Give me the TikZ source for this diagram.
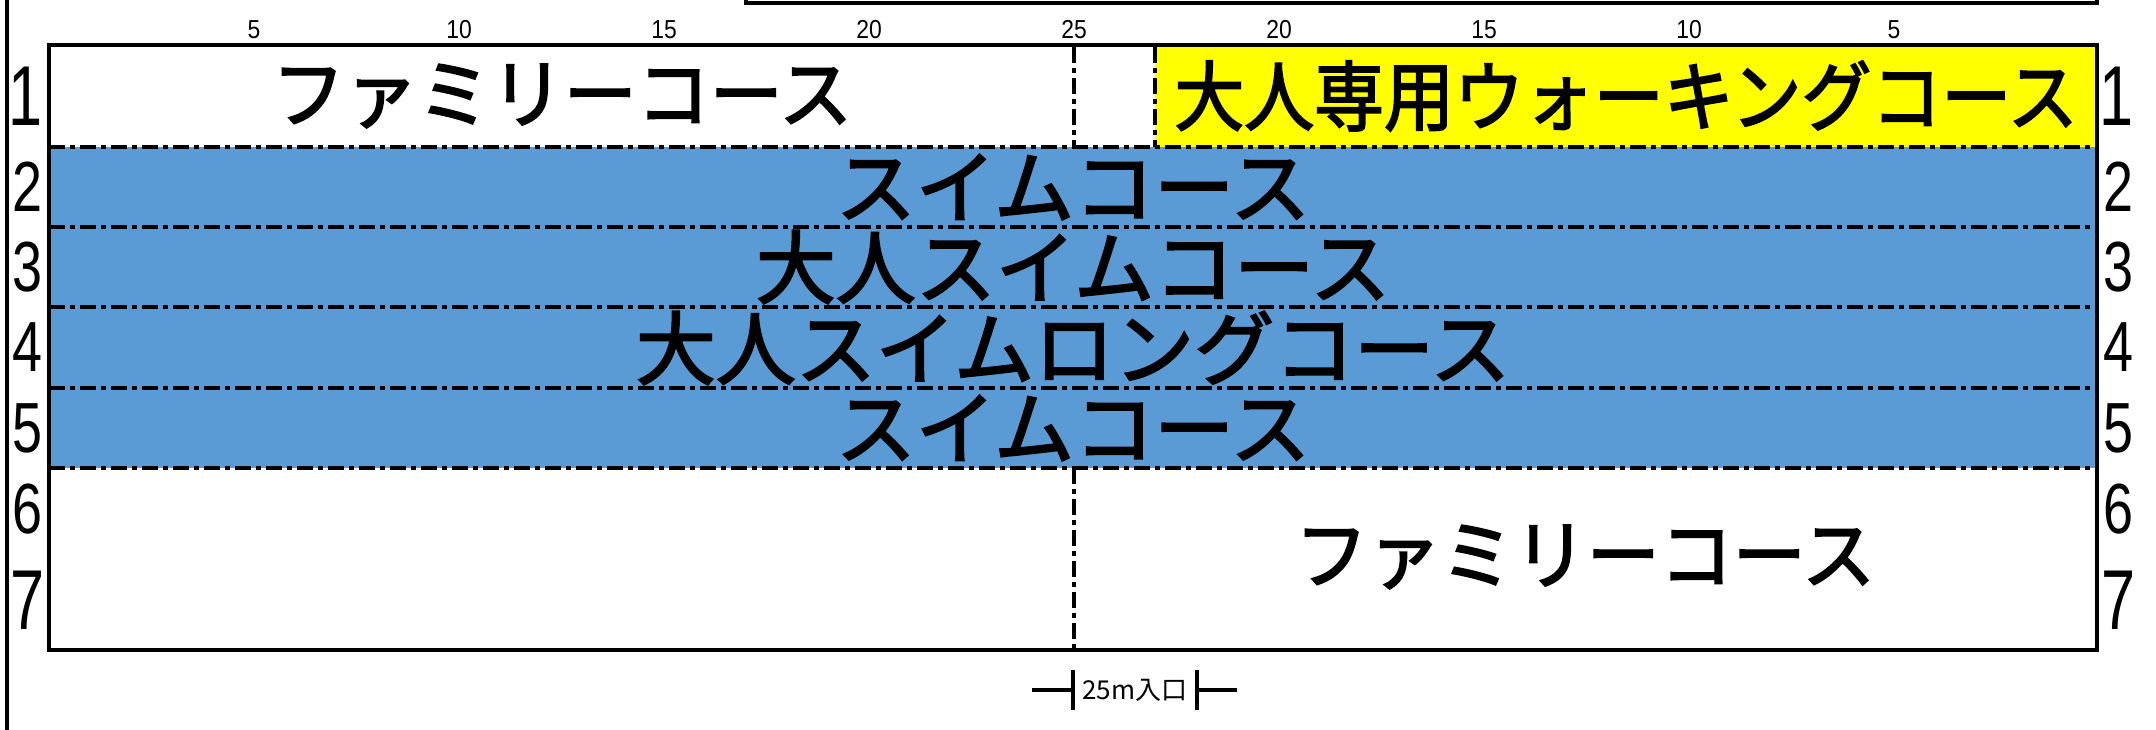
\documentclass[tikz,border=0pt]{standalone}
\usepackage{fontspec}
\setmainfont{Liberation Sans}
\newfontfamily\jpfont{Noto Sans CJK JP}
\newfontfamily\jpheavy{Noto Sans CJK JP}[FakeBold=2.5]
\definecolor{poolblue}{HTML}{5B9BD5}
\definecolor{walkyellow}{HTML}{FFFF00}
\newcommand{\narrowtxt}[2]{\scalebox{#1}[1]{#2}}
\begin{document}
\begin{tikzpicture}[x=1pt,y=-1pt,
  lane/.style={line width=3.3pt, dash pattern=on 16pt off 5pt on 5pt off 5pt},
  frame/.style={line width=4pt},
  jpbig/.style={inner sep=0pt, font=\jpheavy\fontsize{80}{90}\selectfont},
  jpmid/.style={inner sep=0pt, font=\jpheavy\fontsize{76}{85}\selectfont},
  rownum/.style={inner sep=0pt, font=\fontsize{71}{80}\selectfont},
  rownumbig/.style={inner sep=0pt, font=\fontsize{85}{95}\selectfont},
  ruler/.style={inner sep=0pt, font=\fontsize{26}{30}\selectfont},
  entr/.style={inner sep=0pt, font=\jpfont\fontsize{26}{30}\selectfont},
  marker/.style={line width=4.4pt}]
\useasboundingbox (0,0) rectangle (2156,729);

% fills
\fill[poolblue] (49,147) rectangle (2097,468);
\fill[walkyellow] (1155,45) rectangle (2097,147);

% lane lines
\foreach \yy in {147,227,307,388,468}
  \draw[lane] (49,\yy) -- (2097,\yy);
\draw[lane] (1074,47) -- (1074,147);
\draw[lane] (1074,468) -- (1074,650);
\draw[lane] (1155,47) -- (1155,147);

% frames
\draw[frame] (49,45) rectangle (2097,650);
\draw[frame] (746,-20) rectangle (2097,3);
\draw[line width=3.5pt] (7,-5) -- (7,735);

% ruler
\foreach \xx/\lab in {254/5,459/10,664/15,869/20,1074/25,1279/20,1484/15,1689/10,1894/5}
  \node[ruler] (r\xx) at (\xx,30) {\narrowtxt{0.88}{\lab}};

% row numbers
\node[rownumbig] (L1) at (26,96) {\narrowtxt{0.72}{1}};
\node[rownum] (L2) at (28,187) {\narrowtxt{0.76}{2}};
\node[rownum] (L3) at (28,267) {\narrowtxt{0.76}{3}};
\node[rownum] (L4) at (28,347) {\narrowtxt{0.76}{4}};
\node[rownum] (L5) at (28,428) {\narrowtxt{0.76}{5}};
\node[rownum] (L6) at (28,509) {\narrowtxt{0.76}{6}};
\node[rownumbig] (L7) at (28,600) {\narrowtxt{0.72}{7}};
\node[rownumbig] (R1) at (2116,96) {\narrowtxt{0.72}{1}};
\node[rownum] (R2) at (2118,187) {\narrowtxt{0.76}{2}};
\node[rownum] (R3) at (2118,267) {\narrowtxt{0.76}{3}};
\node[rownum] (R4) at (2118,347) {\narrowtxt{0.76}{4}};
\node[rownum] (R5) at (2118,428) {\narrowtxt{0.76}{5}};
\node[rownum] (R6) at (2118,509) {\narrowtxt{0.76}{6}};
\node[rownumbig] (R7) at (2118,600) {\narrowtxt{0.72}{7}};

% course labels
\node[jpmid] (fam1) at (562,96) {\narrowtxt{0.96}{ファミリーコース}};
\node[jpmid] (walk) at (1626,96) {\narrowtxt{0.92}{大人専用ウォーキングコース}};
\node[jpbig] (swim2) at (1073,187) {スイムコース};
\node[jpbig] (swim3) at (1073,267) {大人スイムコース};
\node[jpbig] (swim4) at (1073,348) {大人スイムロングコース};
\node[jpbig] (swim5) at (1073,428) {スイムコース};
\node[jpmid] (fam2) at (1585,557) {\narrowtxt{0.96}{ファミリーコース}};

% entrance marker
\coordinate (eL) at (1032,690);
\coordinate (eR) at (1237,690);
\coordinate (t1a) at (1073,670);
\coordinate (t1b) at (1073,710);
\coordinate (t2a) at (1197,670);
\coordinate (t2b) at (1197,710);
\draw[marker] (eL) -- (1073,690);
\draw[marker] (1197,690) -- (eR);
\draw[marker] (t1a) -- (t1b);
\draw[marker] (t2a) -- (t2b);
\node[entr] (ent) at (1135,690) {25m入口};
\end{tikzpicture}
\end{document}
